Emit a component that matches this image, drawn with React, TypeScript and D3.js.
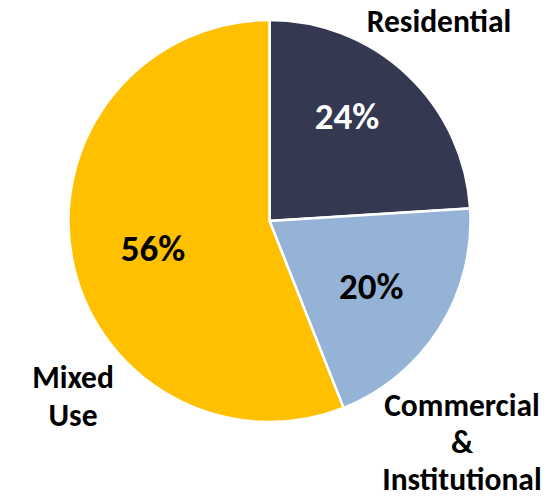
import React from 'react';
import * as d3 from 'd3';

const categories = ['Residential', 'Commercial & Institutional', 'Mixed Use'];
const shares = [24, 20, 56];
const colors = ['#343850', '#95B3D7', '#FFC000'];
const pctColors = ['#ffffff', '#000000', '#000000'];

// outer category labels, one line per entry
const labelLines = [['Residential'], ['Commercial', '&', 'Institutional'], ['Mixed', 'Use']];

const W = 559;
const H = 499;
const cx = 269.5;
const cy = 221;
const radius = 201;

const font = 'Calibri, Carlito, Lato, "Open Sans", sans-serif';

export default function App() {
    const pie = d3.pie<number>().sort(null).value(d => d);
    const arcs = pie(shares);
    const arc = d3.arc<d3.PieArcDatum<number>>().innerRadius(0).outerRadius(radius);

    // percent labels sit at a fraction of the radius along each slice's mid angle
    const pctRadius = [0.65, 0.6, 0.595];
    const pctShift = [-0.118, 0, -0.039]; // angle nudge (rad)

    // outer label anchors (center x, first baseline)
    const labelPos = [
        { x: 439, y: 32 },
        { x: 462, y: 416 },
        { x: 73, y: 388 },
    ];
    const lineGaps = [38, 37, 38];

    return (
        <svg width={W} height={H} style={{ position: 'absolute', left: 0, top: 0 }}>
            <rect width={W} height={H} fill="#ffffff" />
            <g transform={`translate(${cx},${cy})`}>
                {arcs.map((a, i) => (
                    <path key={categories[i]} d={arc(a) || ''} fill={colors[i]} stroke="#ffffff" strokeWidth={2.5} />
                ))}
                {arcs.map((a, i) => {
                    const mid = (a.startAngle + a.endAngle) / 2 + pctShift[i];
                    const r = radius * pctRadius[i];
                    const px = Math.sin(mid) * r;
                    const py = -Math.cos(mid) * r;
                    return (
                        <text key={'p' + i} x={px} y={py} dy="0.36em" textAnchor="middle"
                            fontFamily={font} fontWeight="bold" fontSize={37} fill={pctColors[i]}>
                            {shares[i]}%
                        </text>
                    );
                })}
            </g>
            {labelLines.map((lines, i) => (
                <text key={'l' + i} textAnchor="middle" fontFamily={font} fontWeight="bold" fontSize={31.5} fill="#000">
                    {lines.map((ln, j) => (
                        <tspan key={j} x={labelPos[i].x} y={labelPos[i].y + j * lineGaps[i]}>{ln}</tspan>
                    ))}
                </text>
            ))}
        </svg>
    );
}
